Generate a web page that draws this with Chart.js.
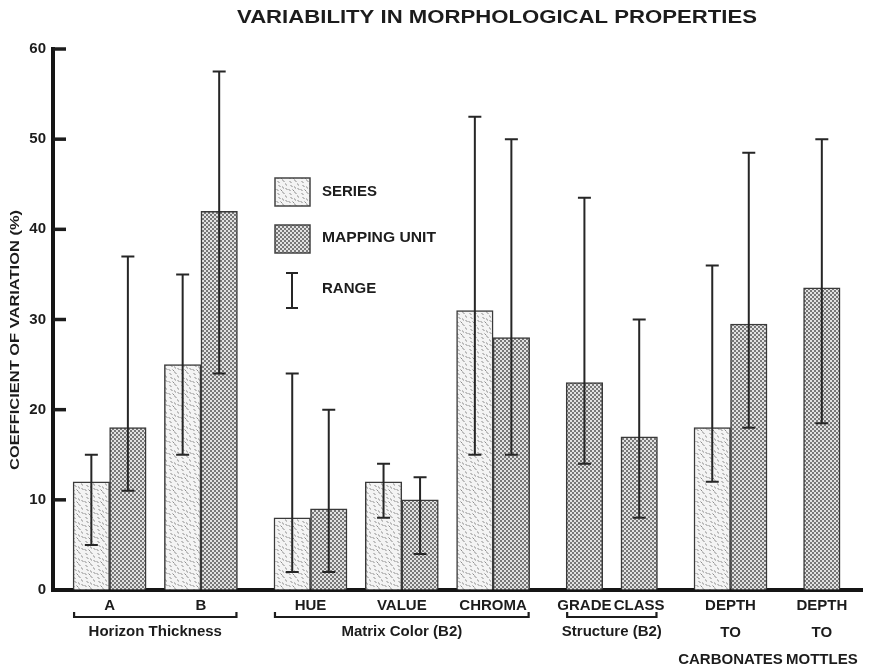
<!DOCTYPE html>
<html>
<head>
<meta charset="utf-8">
<script src="https://cdn.jsdelivr.net/npm/chart.js@4.4.1/dist/chart.umd.min.js"></script>
<style>
  html, body { margin: 0; padding: 0; background: #fff; }
  #wrap { width: 870px; height: 668px; position: relative; }
</style>
</head>
<body>
<div id="wrap"><canvas id="c" width="870" height="668"></canvas></div>
<script>
// ---- data ----
const categories = [['A'], ['B'], ['HUE'], ['VALUE'], ['CHROMA'], ['GRADE'], ['CLASS'],
                    ['DEPTH', 'TO', 'CARBONATES'], ['DEPTH', 'TO', 'MOTTLES']];
const categoryGroup = [0, 0, 1, 1, 1, 2, 2, 3, 4];
const groupLabels = ['Horizon Thickness', 'Matrix Color (B2)', 'Structure (B2)', '', ''];

const seriesValues = [12, 25, 8, 12, 31, null, null, 18, null];
const seriesLow    = [5, 15, 2, 8, 15, null, null, 12, null];
const seriesHigh   = [15, 35, 24, 14, 52.5, null, null, 36, null];

const unitValues = [18, 42, 9, 10, 28, 23, 17, 29.5, 33.5];
const unitLow    = [11, 24, 2, 4, 15, 14, 8, 18, 18.5];
const unitHigh   = [37, 57.5, 20, 12.5, 50, 43.5, 30, 48.5, 50];

const yTicks = [0, 10, 20, 30, 40, 50, 60];
const titleText = 'VARIABILITY IN MORPHOLOGICAL PROPERTIES';
const yTitleText = 'COEFFICIENT OF VARIATION (%)';
const legendLabels = ['SERIES', 'MAPPING UNIT', 'RANGE'];

// ---- slot layout along the x scale ----
// one bar = 2 units, gap inside a group = 1 unit, gap between groups = 2 units
const slots = [];
let cursor = 0;
categories.forEach((c, i) => {
  if (i > 0) cursor += categoryGroup[i] === categoryGroup[i - 1] ? 1 : 2;
  const hasSeries = seriesValues[i] != null;
  const bars = (hasSeries ? 1 : 0) + (unitValues[i] != null ? 1 : 0);
  const left = cursor;
  slots.push({
    left, right: left + 2 * bars, center: left + bars,
    seriesX: hasSeries ? left + 1 : null,
    unitX: hasSeries ? left + 3 : left + 1
  });
  cursor += 2 * bars;
});

const canvas = document.getElementById('c');
const ctx = canvas.getContext('2d');

// ---- fill textures ----
function seriesPattern() {
  const t = document.createElement('canvas');
  t.width = 12; t.height = 12;
  const g = t.getContext('2d');
  g.fillStyle = '#f4f4f4'; g.fillRect(0, 0, 12, 12);
  g.strokeStyle = '#8a8a8a'; g.lineWidth = 1;
  const marks = [[1,1,3,2],[6,0,8,1],[9,3,10,5],[2,5,4,6],[6,6,7,8],[0,9,2,10],[4,9,6,11],[9,8,11,9]];
  marks.forEach(([a, b, c2, d]) => {
    g.beginPath(); g.moveTo(a + .5, b + .5); g.lineTo(c2 + .5, d + .5); g.stroke();
  });
  return ctx.createPattern(t, 'repeat');
}
function unitPattern() {
  const t = document.createElement('canvas');
  t.width = 4; t.height = 4;
  const g = t.getContext('2d');
  g.fillStyle = '#e2e2e2'; g.fillRect(0, 0, 4, 4);
  g.fillStyle = '#787878';
  g.fillRect(0, 0, 2, 2); g.fillRect(2, 2, 2, 2);
  return ctx.createPattern(t, 'repeat');
}
const seriesFill = seriesPattern();
const unitFill = unitPattern();

const INK = '#1c1c1c';
const FONT = '"Liberation Sans", Arial, sans-serif';

const seriesData = [], unitData = [];
slots.forEach((s, i) => {
  if (seriesValues[i] != null) seriesData.push({ x: s.seriesX, y: seriesValues[i] });
  if (unitValues[i] != null) unitData.push({ x: s.unitX, y: unitValues[i] });
});

function fitText(c, text, x, y, width, align) {
  const w = c.measureText(text).width;
  c.save();
  c.translate(x, y);
  c.scale(width / w, 1);
  c.textAlign = align || 'center';
  c.fillText(text, 0, 0);
  c.restore();
}

const decor = {
  id: 'decor',
  beforeDraw(chart) {
    const c = chart.ctx;
    c.save(); c.fillStyle = '#fff'; c.fillRect(0, 0, chart.width, chart.height); c.restore();
  },
  afterDatasetsDraw(chart) {
    const c = chart.ctx, xs = chart.scales.x, ys = chart.scales.y;
    const area = chart.chartArea;
    c.save();
    // range bars
    c.strokeStyle = '#262626';
    c.lineWidth = 2;
    const cap = 6.5;
    const drawRange = (xv, lo, hi) => {
      const x = xs.getPixelForValue(xv);
      const y1 = ys.getPixelForValue(lo), y2 = ys.getPixelForValue(hi);
      c.beginPath();
      c.moveTo(x, y1); c.lineTo(x, y2);
      c.moveTo(x - cap, y1); c.lineTo(x + cap, y1);
      c.moveTo(x - cap, y2); c.lineTo(x + cap, y2);
      c.stroke();
    };
    slots.forEach((s, i) => {
      if (seriesValues[i] != null) drawRange(s.seriesX, seriesLow[i], seriesHigh[i]);
      if (unitValues[i] != null) drawRange(s.unitX, unitLow[i], unitHigh[i]);
    });
    // inward tick marks on the y axis
    c.strokeStyle = INK;
    c.lineWidth = 3.5;
    yTicks.forEach(v => {
      if (v === 0) return;
      const y = ys.getPixelForValue(v);
      c.beginPath(); c.moveTo(area.left, y); c.lineTo(area.left + 13, y); c.stroke();
    });
    c.restore();
  },
  afterDraw(chart) {
    const c = chart.ctx, xs = chart.scales.x;
    c.save();
    c.fillStyle = INK;
    c.textBaseline = 'middle';

    // title
    c.font = 'bold 18px ' + FONT;
    fitText(c, titleText, 497, 18, 520);

    // y axis title
    c.save();
    c.translate(15, 340);
    c.rotate(-Math.PI / 2);
    c.font = 'bold 13px ' + FONT;
    fitText(c, yTitleText, 0, 0, 260);
    c.restore();

    // group brackets under the category labels
    c.strokeStyle = INK;
    c.lineWidth = 2.2;
    groupLabels.forEach((label, g) => {
      if (!label) return;
      const members = slots.filter((s, i) => categoryGroup[i] === g);
      const x1 = xs.getPixelForValue(members[0].left) + 1;
      const x2 = xs.getPixelForValue(members[members.length - 1].right) - 1;
      const y = 617;
      c.beginPath();
      c.moveTo(x1, y - 5); c.lineTo(x1, y); c.lineTo(x2, y); c.lineTo(x2, y - 5);
      c.stroke();
      c.font = 'bold 15px ' + FONT;
      c.textAlign = 'center';
      c.fillText(label, (x1 + x2) / 2, 632);
    });

    // legend
    const boxes = [[seriesFill, 178], [unitFill, 225]];
    c.lineWidth = 1.5;
    c.strokeStyle = '#444';
    boxes.forEach(([fill, top]) => {
      c.fillStyle = fill;
      c.fillRect(275, top, 35, 28);
      c.strokeRect(275, top, 35, 28);
    });
    c.strokeStyle = '#262626';
    c.lineWidth = 2;
    c.beginPath();
    c.moveTo(292, 273); c.lineTo(292, 308);
    c.moveTo(286, 273); c.lineTo(298, 273);
    c.moveTo(286, 308); c.lineTo(298, 308);
    c.stroke();
    c.fillStyle = INK;
    c.font = 'bold 15px ' + FONT;
    c.textAlign = 'left';
    c.fillText(legendLabels[0], 322, 192);
    fitText(c, legendLabels[1], 322, 238, 114, 'left');
    c.fillText(legendLabels[2], 322, 289);
    c.restore();
  }
};

new Chart(canvas, {
  type: 'bar',
  data: {
    datasets: [
      { label: legendLabels[0], data: seriesData, backgroundColor: seriesFill,
        borderColor: '#3a3a3a', borderWidth: 1.5, grouped: false,
        barPercentage: 1, categoryPercentage: 1 },
      { label: legendLabels[1], data: unitData, backgroundColor: unitFill,
        borderColor: '#3a3a3a', borderWidth: 1.5, grouped: false,
        barPercentage: 1, categoryPercentage: 1 }
    ]
  },
  options: {
    responsive: false,
    animation: false,
    events: [],
    layout: { padding: { top: 49, right: 8, left: 0, bottom: 0 } },
    plugins: { legend: { display: false }, title: { display: false }, tooltip: { enabled: false } },
    scales: {
      x: {
        type: 'linear',
        offset: false,
        min: -1.1,
        max: cursor + 1.2,
        afterFit: s => { s.height = 78; },
        afterBuildTicks: s => { s.ticks = slots.map(sl => ({ value: sl.center })); },
        grid: { display: true, offset: false, drawOnChartArea: false, drawTicks: false },
        border: { display: true, color: '#151515', width: 4 },
        ticks: {
          autoSkip: false, maxRotation: 0, minRotation: 0, padding: 3,
          color: INK,
          font: { family: FONT, size: 15, weight: 'bold', lineHeight: 1.77 },
          callback: (v, i) => categories[i]
        }
      },
      y: {
        min: 0, max: 60,
        afterFit: s => { s.width = 53; },
        afterBuildTicks: s => { s.ticks = yTicks.map(v => ({ value: v })); },
        grid: { display: true, drawOnChartArea: false, drawTicks: false },
        border: { display: true, color: '#151515', width: 4 },
        ticks: {
          padding: 7, color: INK,
          font: { family: FONT, size: 15, weight: 'bold' }
        }
      }
    }
  },
  plugins: [decor]
});
</script>
</body>
</html>
